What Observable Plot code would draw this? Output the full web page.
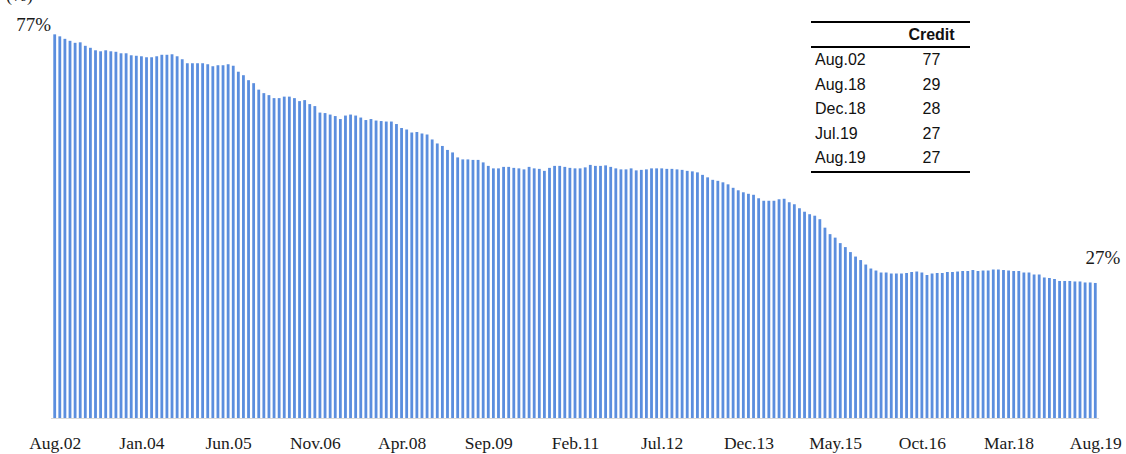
<!DOCTYPE html>
<html>
<head>
<meta charset="utf-8">
<script src="https://cdn.jsdelivr.net/npm/d3@7"></script>
<script src="https://cdn.jsdelivr.net/npm/@observablehq/plot@0.6"></script>
<style>
  body { margin: 0; background: #fff; }
  #wrap { position: relative; width: 1126px; height: 454px; overflow: hidden; background: #fff; }
  #unit { position: absolute; left: 6px; top: -15px; font: 18px "Liberation Serif", serif; color: #1a1a1a; }
  #tbl { position: absolute; left: 811px; top: 21px; width: 159px; border-collapse: collapse;
         font: 16px "Liberation Sans", Arial, sans-serif; color: #111; }
  #tbl { border-top: 2px solid #000; border-bottom: 2px solid #000; }
  #tbl th { height: 23px; padding: 0; border-bottom: 2px solid #000; font-weight: bold; text-align: center; }
  #tbl td { height: 24.5px; padding: 0; }
  #tbl td.d { text-align: left; padding-left: 4px; width: 78px; }
  #tbl td.v, #tbl th.v { text-align: center; }
</style>
</head>
<body>
<div id="wrap">
  <div id="chart"></div>
  <div id="unit">(%)</div>
  <table id="tbl"></table>
</div>
<script>
// ---- data ----
const monthNames = ["Jan","Feb","Mar","Apr","May","Jun","Jul","Aug","Sep","Oct","Nov","Dec"];
const startYear = 2002, startMonth = 7; // Aug 2002
const values = [
  77.0,76.6,76.1,75.7,75.3,75.4,74.7,74.3,73.8,73.6,73.8,73.6,73.5,73.2,73.2,72.8,72.7,72.6,72.4,72.4,
  72.6,72.9,72.9,73.0,72.6,72.0,71.2,71.2,71.2,71.2,71.0,70.6,70.8,70.8,71.0,70.7,69.5,68.8,67.8,67.2,
  65.9,65.2,64.8,64.2,64.2,64.5,64.5,64.2,63.6,63.8,63.0,62.6,61.3,61.2,60.9,60.6,60.0,60.7,60.9,60.7,
  60.3,59.8,60.0,59.7,59.6,59.5,59.5,59.0,58.2,57.9,57.3,57.4,57.1,56.9,55.9,55.1,54.6,53.8,53.3,52.3,
  51.9,51.9,51.8,51.8,51.3,50.6,50.1,50.1,50.4,50.4,50.2,50.1,49.9,50.4,50.1,50.0,49.6,50.2,50.6,50.6,
  50.4,50.2,50.1,50.1,50.3,50.8,50.6,50.6,50.7,50.4,50.1,49.9,49.9,50.1,49.7,49.8,49.9,50.1,50.1,50.1,
  50.0,50.0,49.9,49.8,49.6,49.5,49.3,48.8,48.3,47.8,47.6,47.3,46.9,46.2,45.7,45.3,45.0,44.8,44.1,43.6,
  43.6,43.6,43.9,44.0,43.3,42.9,42.1,41.4,40.9,40.6,39.9,38.2,36.9,36.2,35.1,34.3,33.3,32.4,31.7,30.8,
  30.0,29.6,29.2,29.2,29.0,29.0,29.0,29.1,29.3,29.4,29.2,28.7,29.0,29.1,29.1,29.3,29.3,29.4,29.5,29.5,
  29.7,29.5,29.6,29.6,29.8,29.8,29.7,29.6,29.5,29.5,29.2,29.2,28.8,28.8,28.2,28.1,27.9,27.5,27.5,27.5,
  27.4,27.4,27.2,27.2,27.1
];
const categories = values.map((_, i) => {
  const m = (startMonth + i) % 12;
  const y = startYear + Math.floor((startMonth + i) / 12);
  return monthNames[m] + "." + String(y % 100).padStart(2, "0");
});
const tickLabels = ["Aug.02","Jan.04","Jun.05","Nov.06","Apr.08","Sep.09","Feb.11","Jul.12","Dec.13","May.15","Oct.16","Mar.18","Aug.19"];
const tableHeader = "Credit";
const tableDates = ["Aug.02","Aug.18","Dec.18","Jul.19","Aug.19"];
const tableValues = [77, 29, 28, 27, 27];

// ---- chart ----
const data = categories.map((c, i) => ({cat: c, v: values[i]}));
const first = [data[0]];
const last = [data[data.length - 1]];

const chart = Plot.plot({
  width: 1126,
  height: 454,
  marginLeft: 51,
  marginRight: 27,
  marginTop: 19.4,
  marginBottom: 36,
  style: {background: "#fff", color: "#1a1a1a"},
  x: {domain: categories, padding: 0.45, round: false, label: null},
  y: {domain: [0, 80], axis: null},
  marks: [
    Plot.barY(data, {x: "cat", y: "v", fill: "#5b8ede"}),
    Plot.ruleY([0], {stroke: "#d9d9d9", strokeWidth: 1}),
    Plot.axisX({ticks: tickLabels, tickSize: 0, tickPadding: 18, fontSize: 17.5,
                fontFamily: "Liberation Serif, serif", fill: "#1a1a1a", label: null}),
    Plot.text(first, {x: "cat", y: "v", text: d => Math.round(d.v) + "%", textAnchor: "end",
                      dx: -4, dy: -9.6, fontSize: 19, fontFamily: "Liberation Serif, serif", fill: "#1a1a1a"}),
    Plot.text(last, {x: "cat", y: "v", text: d => Math.round(d.v) + "%", textAnchor: "middle",
                     dx: 7, dy: -26, fontSize: 19, fontFamily: "Liberation Serif, serif", fill: "#1a1a1a"})
  ]
});
document.getElementById("chart").appendChild(chart);

// ---- table ----
const tbl = d3.select("#tbl");
const hr = tbl.append("thead").append("tr");
hr.append("th").attr("class", "d").text("");
hr.append("th").attr("class", "v").text(tableHeader);
const body = tbl.append("tbody");
tableDates.forEach((d, i) => {
  const r = body.append("tr");
  r.append("td").attr("class", "d").text(d);
  r.append("td").attr("class", "v").text(tableValues[i]);
});
</script>
</body>
</html>
